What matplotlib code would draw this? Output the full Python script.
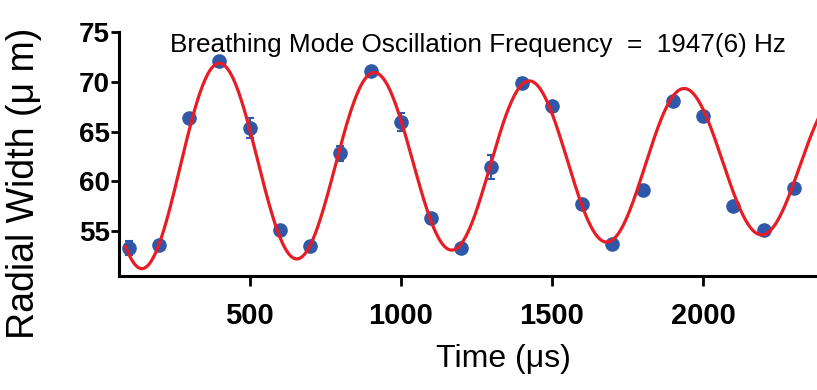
import numpy as np
import matplotlib
matplotlib.use("Agg")
import matplotlib.pyplot as plt

# measured radial width of the cloud vs time after the kick
times = [100, 200, 300, 400, 500, 600, 700, 800, 900, 1000, 1100, 1200,
         1300, 1400, 1500, 1600, 1700, 1800, 1900, 2000, 2100, 2200, 2300]
widths = [53.3, 53.6, 66.4, 72.1, 65.4, 55.1, 53.5, 62.8, 71.1, 66.0, 56.3, 53.3,
          61.4, 69.9, 67.6, 57.7, 53.7, 59.1, 68.1, 66.6, 57.5, 55.1, 59.3]
errors = [0.7, 0.3, 0.4, 0.3, 1.0, 0.3, 0.3, 0.8, 0.3, 0.9, 0.3, 0.3,
          1.2, 0.5, 0.3, 0.3, 0.3, 0.3, 0.3, 0.3, 0.3, 0.4, 0.3]

# damped-cosine fit parameters (as drawn in the original figure)
FIT_OFFSET = 61.8      # um
FIT_AMP = 10.85        # um
FIT_TAU = 5300.0       # us
FIT_FREQ = 1951e-6     # 1/us
FIT_T0 = 401.0         # us, first maximum
FIT_RANGE = (90, 2380)

BLUE = "#2f59a8"
RED = "#e81c24"

plt.rcParams["font.family"] = ["Liberation Sans", "DejaVu Sans"]

fig = plt.figure(figsize=(8.17, 3.9), dpi=100)
ax = fig.add_axes([0.1457, 0.2923, 0.854, 0.6257])

ax.errorbar(times, widths, yerr=errors, fmt="o", color=BLUE, ms=9.5,
            ecolor=BLUE, elinewidth=1.5, capsize=3, capthick=1.5, zorder=2)

t_fit = np.linspace(*FIT_RANGE, 800)
y_fit = FIT_OFFSET + FIT_AMP * np.exp(-t_fit / FIT_TAU) * np.cos(2 * np.pi * FIT_FREQ * (t_fit - FIT_T0))
ax.plot(t_fit, y_fit, color=RED, lw=2.3, zorder=3)

ax.set_xlim(68, 2376)
ax.set_ylim(50.5, 75)
ax.set_xticks([500, 1000, 1500, 2000])
ax.set_yticks([55, 60, 65, 70, 75])

for side in ("top", "right"):
    ax.spines[side].set_visible(False)
for side in ("left", "bottom"):
    ax.spines[side].set_linewidth(2.2)
ax.tick_params(axis="both", direction="out", width=2.0, labelsize=20)
ax.tick_params(axis="y", length=5.5, pad=1)
ax.tick_params(axis="x", length=7, pad=12, labelsize=21)
for lbl in ax.get_xticklabels() + ax.get_yticklabels():
    lbl.set_fontweight("bold")

ax.set_xlabel("Time (\u03bcs)", fontsize=23)
ax.xaxis.set_label_coords(0.551, -0.279)
ax.set_ylabel("Radial Width (\u03bc m)", fontsize=27)
ax.yaxis.set_label_coords(-0.11, 0.381)

ax.text(0.515, 0.947, "Breathing Mode Oscillation Frequency  =  1947(6) Hz",
        transform=ax.transAxes, ha="center", va="center", fontsize=18.8)

fig.savefig("out.png", dpi=100)
plt.close(fig)
